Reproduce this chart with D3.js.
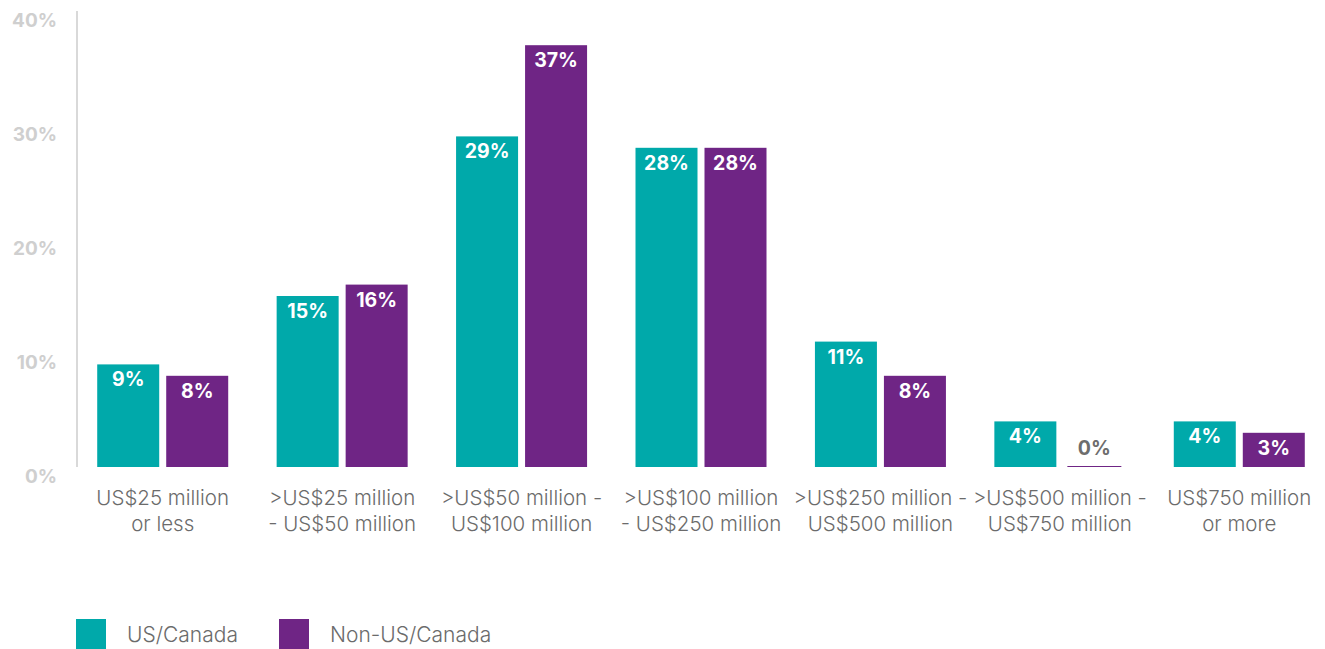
<!DOCTYPE html>
<html>
<head>
<meta charset="utf-8">
<script src="https://cdn.jsdelivr.net/npm/d3@7"></script>
<style>
  html, body { margin: 0; padding: 0; background: #fff; }
  svg { display: block; font-family: Inter, "Noto Sans", sans-serif; }
</style>
</head>
<body>
<svg id="chart" width="1325" height="649"></svg>
<script>
// Deal size categories (two-line labels)
const categories = [
  ["US$25 million", "or less"],
  [">US$25 million", "- US$50 million"],
  [">US$50 million -", "US$100 million"],
  [">US$100 million", "- US$250 million"],
  [">US$250 million -", "US$500 million"],
  [">US$500 million -", "US$750 million"],
  ["US$750 million", "or more"]
];
const seriesNames = ["US/Canada", "Non-US/Canada"];
const usCanada = [9, 15, 29, 28, 11, 4, 4];
const nonUsCanada = [8, 16, 37, 28, 8, 0, 3];
const yTicks = [0, 10, 20, 30, 40];

const colors = ["#00a9aa", "#6f2585"];
const svg = d3.select("#chart");

const baseY = 467, topY = 11;
const y = d3.scaleLinear().domain([0, 40]).range([baseY, topY]);
const x = d3.scaleBand().domain(d3.range(categories.length)).range([73, 1329]).padding(0);
const barW = 62, gap = 7;

// Y axis line
svg.append("line")
  .attr("x1", 77).attr("x2", 77)
  .attr("y1", y(40)).attr("y2", baseY)
  .attr("stroke", "#d9d9d9").attr("stroke-width", 2);

// Y tick labels
svg.append("g").selectAll("text").data(yTicks).join("text")
  .attr("x", 57).attr("y", d => y(d) + 16)
  .attr("text-anchor", "end")
  .attr("font-size", 19).attr("font-weight", 700)
  .attr("fill", "#cfcfcf")
  .text(d => d + "%");

const rows = categories.map((c, i) => ({ i, vals: [usCanada[i], nonUsCanada[i]] }));

const groups = svg.append("g").selectAll("g").data(rows).join("g")
  .attr("transform", d => `translate(${x(d.i) + x.bandwidth() / 2},0)`);

const barX = s => s === 0 ? -(barW + gap / 2) : gap / 2;

groups.each(function (d) {
  const g = d3.select(this);
  d.vals.forEach((v, s) => {
    const bx = barX(s);
    if (v > 0) {
      g.append("rect")
        .attr("x", bx).attr("width", barW)
        .attr("y", y(v)).attr("height", baseY - y(v))
        .attr("fill", colors[s]);
      g.append("text")
        .attr("x", bx + barW / 2).attr("y", y(v) + 22)
        .attr("text-anchor", "middle")
        .attr("font-size", 19.5).attr("font-weight", 700)
        .attr("fill", "#fff")
        .text(v + "%");
    } else {
      // zero value: thin baseline stroke with a grey label above it
      g.append("rect")
        .attr("x", bx + 4).attr("width", barW - 8)
        .attr("y", baseY - 1).attr("height", 1)
        .attr("fill", colors[s]);
      g.append("text")
        .attr("x", bx + barW / 2).attr("y", baseY - 12)
        .attr("text-anchor", "middle")
        .attr("font-size", 19.5).attr("font-weight", 700)
        .attr("fill", "#6d6d6d")
        .text(v + "%");
    }
  });
  // Category label
  const t = g.append("text")
    .attr("text-anchor", "middle")
    .attr("font-size", 20.5).attr("font-weight", 300)
    .attr("fill", "#6b6b6b");
  categories[d.i].forEach((line, k) => {
    t.append("tspan").attr("x", 0).attr("y", 505 + k * 26).text(line);
  });
});

// Legend
const legend = svg.append("g");
const legendX = [76, 279];
seriesNames.forEach((name, s) => {
  legend.append("rect")
    .attr("x", legendX[s]).attr("y", 619)
    .attr("width", 30).attr("height", 30)
    .attr("fill", colors[s]);
  legend.append("text")
    .attr("x", legendX[s] + 51).attr("y", 642)
    .attr("font-size", 21).attr("font-weight", 300)
    .attr("fill", "#6b6b6b")
    .text(name);
});
</script>
</body>
</html>
